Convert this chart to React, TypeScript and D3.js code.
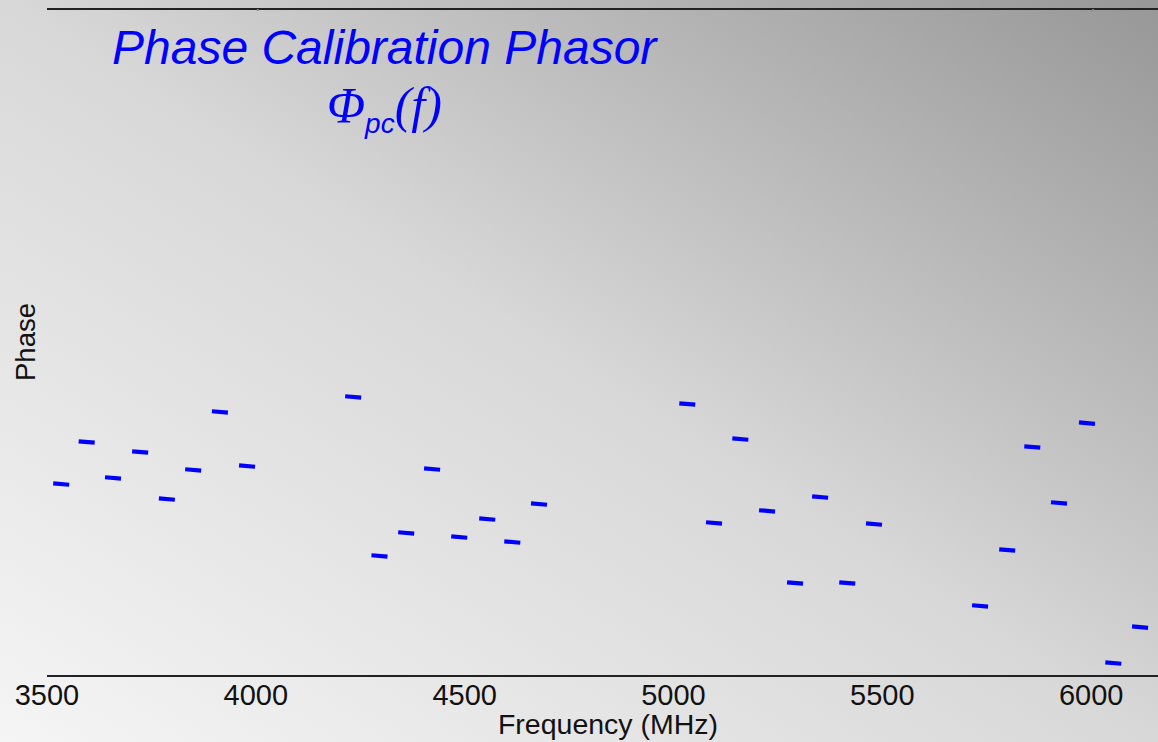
import React from "react";
import * as d3 from "d3";

const W = 1158;
const H = 742;

// Channel centre frequencies (MHz)
const freqs = [
  3534, 3595, 3658, 3723, 3787, 3850, 3914, 3979,
  4233, 4296, 4360, 4422, 4487, 4554, 4614, 4678,
  5033, 5097, 5160, 5224, 5291, 5351, 5416, 5480,
  5734, 5799, 5859, 5923, 5990, 6053, 6117,
];
// Phase (degrees, arbitrary reference)
const phases = [
  -76.4, -53.7, -73.1, -59.1, -84.5, -68.8, -37.5, -66.7,
  -29.4, -115.2, -102.8, -68.3, -105.0, -95.3, -107.7, -87.2,
  -33.2, -97.4, -52.1, -90.9, -129.8, -83.4, -129.8, -98.0,
  -142.2, -112.0, -56.4, -86.6, -43.5, -173.0, -153.6,
];
const xTicks = [3500, 4000, 4500, 5000, 5500, 6000];
const topTicks = [4000, 6000];

export default function App() {
  const x = d3.scaleLinear().domain([3500, 6160]).range([47, 1158]);
  const y = d3.scaleLinear().domain([-180, 180]).range([676, 9]);
  const line = d3.line<[number, number]>();
  const sans = "'Liberation Sans', Arial, sans-serif";
  const serif = "'Liberation Serif', 'Times New Roman', serif";

  return (
    <svg
      width={W}
      height={H}
      style={{ position: "absolute", left: 0, top: 0, display: "block" }}
    >
      <defs>
        <linearGradient id="bg" x1="0" y1="1" x2="1" y2="0">
          <stop offset="0" stopColor="#f5f5f5" />
          <stop offset="0.5" stopColor="#d8d8d8" />
          <stop offset="1" stopColor="#979797" />
        </linearGradient>
      </defs>
      <rect x={0} y={0} width={W} height={H} fill="url(#bg)" />

      {/* frame lines */}
      <line x1={x(3500)} x2={W} y1={9} y2={9} stroke="#222" strokeWidth={2.2} />
      {topTicks.map((t) => (
        <rect key={t} x={x(t) + 1} y={9} width={2} height={2} fill="#888" />
      ))}
      <line x1={x(3500)} x2={W} y1={676} y2={676} stroke="#222" strokeWidth={2.2} />

      {/* tick labels */}
      {xTicks.map((t) => (
        <text
          key={t}
          x={x(t)}
          y={705}
          textAnchor="middle"
          fontFamily={sans}
          fontSize={29}
          fill="#111"
        >
          {t}
        </text>
      ))}
      <text
        x={608}
        y={734}
        textAnchor="middle"
        fontFamily={sans}
        fontSize={28.5}
        fill="#111"
      >
        Frequency (MHz)
      </text>
      <text
        transform={`translate(35,342) rotate(-90)`}
        textAnchor="middle"
        fontFamily={sans}
        fontSize={27.5}
        fill="#111"
      >
        Phase
      </text>

      {/* title */}
      <text
        x={112}
        y={64}
        fontFamily={sans}
        fontStyle="italic"
        fontSize={48}
        fill="#0000ff"
      >
        Phase Calibration Phasor
      </text>
      <text x={327} y={122} fill="#0000ff">
        <tspan fontFamily={serif} fontStyle="italic" fontSize={50}>
          Φ
        </tspan>
        <tspan fontFamily={sans} fontStyle="italic" fontSize={28} dy={11}>
          pc
        </tspan>
        <tspan fontFamily={serif} fontStyle="italic" fontSize={50} dy={-11}>
          (f)
        </tspan>
      </text>

      {/* data marks */}
      {freqs.map((f, i) => {
        const cx = x(f);
        const cy = y(phases[i]);
        const d = line([
          [cx - 8, cy - 0.7],
          [cx + 8, cy + 0.7],
        ]) as string;
        return (
          <path key={i} d={d} stroke="#0000ff" strokeWidth={4.2} fill="none" />
        );
      })}
    </svg>
  );
}
